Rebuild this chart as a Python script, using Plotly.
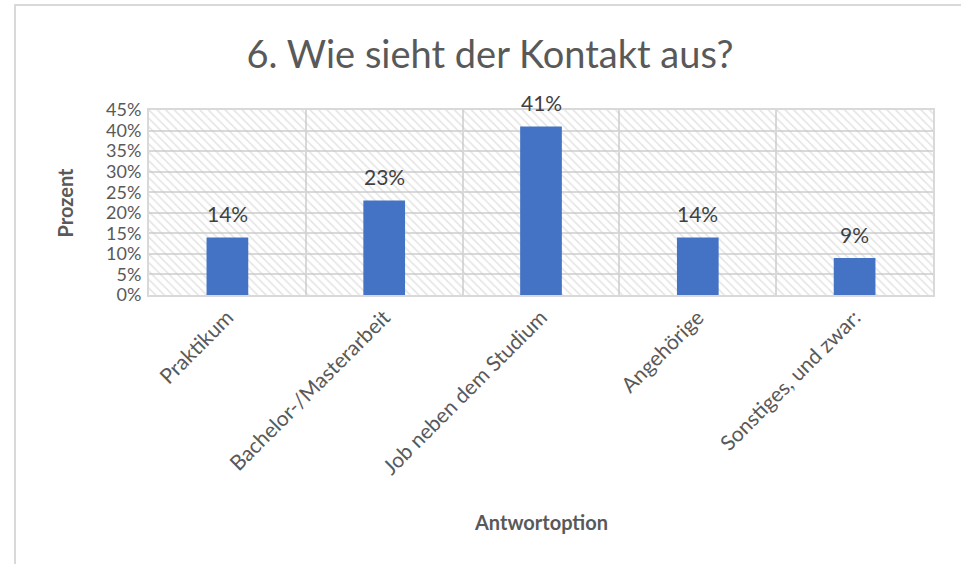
import plotly.graph_objects as go

categories = ["Praktikum", "Bachelor-/Masterarbeit", "Job neben dem Studium", "Angehörige", "Sonstiges, und zwar:"]
values = [0.14, 0.23, 0.41, 0.14, 0.09]
y_max = 0.45
y_step = 0.05

FONT = "Lato"
GRAY = "#595959"
GRID = "#d9d9d9"
W, H = 961, 564
L, R, T, B = 149, 28, 110, 269
pw = W - L - R
ph = H - T - B

fig = go.Figure()

# hatched plot-area background (main axes, hidden)
fig.add_trace(go.Bar(
    x=[0.5], y=[1], width=[1], xaxis="x", yaxis="y",
    marker=dict(color="rgba(0,0,0,0)", line=dict(width=0),
                pattern=dict(shape="\\", fgcolor="#c8c8c8", bgcolor="rgba(0,0,0,0)",
                             size=6, solidity=0.25)),
    hoverinfo="skip", showlegend=False,
))

# data bars
fig.add_trace(go.Bar(
    x=categories, y=values, xaxis="x2", yaxis="y2",
    marker=dict(color="#4472C4", line=dict(width=0)),
    showlegend=False,
))

annotations = []
for c, v in zip(categories, values):
    annotations.append(dict(
        x=c, y=v, xref="x2", yref="y2", text=f"{round(v*100)}%",
        showarrow=False, yanchor="bottom", yshift=9,
        font=dict(family=FONT, size=21, color="#404040"),
    ))

annotations.append(dict(
    x=(64 - L) / pw, y=0.5, xref="paper", yref="paper", text="<b>Prozent</b>",
    textangle=-90, showarrow=False, xanchor="center", yanchor="middle",
    font=dict(family=FONT, size=20, color=GRAY),
))
annotations.append(dict(
    x=0.5, y=(T + ph - 522) / ph, xref="paper", yref="paper", text="<b>Antwortoption</b>",
    showarrow=False, xanchor="center", yanchor="middle",
    font=dict(family=FONT, size=20, color=GRAY),
))

ticks = [round(i * y_step, 2) for i in range(int(round(y_max / y_step)) + 1)]

fig.update_layout(
    width=W, height=H,
    margin=dict(l=L, r=R, t=T, b=B, autoexpand=False),
    paper_bgcolor="white", plot_bgcolor="white",
    bargap=0.734,
    title=dict(text="6. Wie sieht der Kontakt aus?", x=490 / W, xref="container",
               y=1 - 55 / H, yref="container", xanchor="center", yanchor="middle",
               font=dict(family=FONT, size=38, color=GRAY)),
    xaxis=dict(range=[0, 1], visible=False, fixedrange=True),
    yaxis=dict(range=[0, 1], visible=False, fixedrange=True),
    xaxis2=dict(overlaying="x", anchor="y2", type="category", tickson="boundaries",
                showgrid=True, gridcolor=GRID, gridwidth=2,
                showline=True, linecolor=GRID, linewidth=2, mirror=True,
                ticks="", tickangle=-45,
                tickfont=dict(family=FONT, size=21, color=GRAY)),
    yaxis2=dict(overlaying="y", anchor="x2", side="left", range=[0, y_max],
                tickvals=ticks, tickformat=".0%",
                showgrid=True, gridcolor=GRID, gridwidth=2,
                showline=True, linecolor=GRID, linewidth=2, mirror=True,
                ticks="", zeroline=False, ticklabelstandoff=2,
                tickfont=dict(family=FONT, size=18, color=GRAY)),
    annotations=annotations,
    shapes=[dict(type="rect", xref="paper", yref="paper",
                 x0=(15 - L) / pw, x1=(W + 20 - L) / pw,
                 y0=-(B + 20) / ph, y1=(H - B - 5) / ph,
                 line=dict(color="#d9d9d9", width=2), fillcolor="rgba(0,0,0,0)", layer="below")],
)

fig.write_html("out.html", config={"displayModeBar": False},
               post_script="document.body.style.margin='0';document.body.style.overflow='hidden';")
